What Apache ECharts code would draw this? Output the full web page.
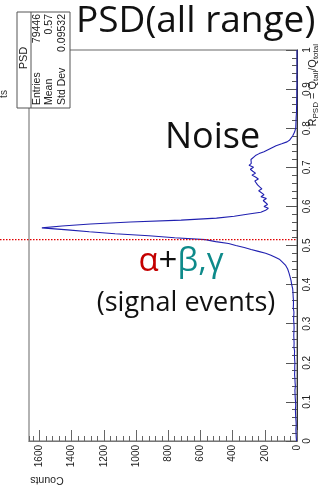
<!DOCTYPE html>
<html>
<head>
<meta charset="utf-8">
<script src="https://cdn.jsdelivr.net/npm/echarts@6/dist/echarts.min.js"></script>
<style>
html,body{margin:0;padding:0;background:#fff;}
#c{width:321px;height:488px;}
</style>
</head>
<body>
<div id="c"></div>
<script>
// Histogram of R_PSD (bin width 0.005, R from 0 to 1); counts per bin
const binWidth = 0.005;
const counts = [
  3,4,5,4,6,5,7,6,5,8,6,7,8,7,9,8,10,9,8,10,9,
  10,11,9,12,11,13,12,10,13,12,14,13,12,15,13,14,16,14,15,13,
  16,15,17,16,18,15,17,19,16,18,17,19,18,20,17,19,21,18,20,19,
  19,21,18,20,22,19,21,23,20,22,
  23,22,25,24,26,25,28,27,30,33,
  35,37,40,43,46,50,54,58,62,72,
  84,97,110,135,162,195,240,285,328,380,
  425,505,570,760,920,1130,1290,1426,1585,1460,
  1283,1035,720,500,390,310,225,195,178,205,
  183,196,210,190,224,205,212,238,218,232,
  245,236,262,240,258,280,258,275,290,270,
  298,284,292,286,276,258,235,205,180,155,
  130,95,62,45,35,27,22,15,10,8,
  6,7,5,6,4,5,4,3,4,3,
  3,2,3,2,2,1,2,1,1,1,
  1,0,1,0,0,1,0,0,0,0,
  0,0,0,0,0,0,0,0,0,0
];
const countTicks = ['0','200','400','600','800','1000','1200','1400','1600'];
const rTicks = ['0','0.1','0.2','0.3','0.4','0.5','0.6','0.7','0.8','0.9','1'];
const statNames = ['Entries','Mean','Std Dev'];
const statValues = ['79446','0.57','0.09532'];
const statTitle = 'PSD';
const cutValue = 0.515;
const countMax = 1665;

const points = counts.map((c, i) => [c, +(i * binWidth).toFixed(4)]);

const chart = echarts.init(document.getElementById('c'), null, {renderer: 'canvas'});
const axFont = 'Liberation Sans, Arial, sans-serif';
const bigFont = 'Open Sans, Noto Sans, sans-serif';

const option = {
  animation: false,
  backgroundColor: '#fff',
  grid: {left: 29, right: 24, top: 50, bottom: 47, show: true, borderColor: '#9a9a9a', borderWidth: 1.5, containLabel: false},
  xAxis: [{
    type: 'value', inverse: true, min: 0, max: countMax, interval: 200, position: 'bottom',
    axisLine: {show: true, lineStyle: {color: '#777', width: 1}},
    axisTick: {show: true, inside: true, length: 11, lineStyle: {color: '#666'}},
    axisLabel: {rotate: 90, fontSize: 10, color: '#222', fontFamily: axFont, margin: 4, showMaxLabel: false,
      formatter: v => countTicks[Math.round(v / 200)] || ''},
    splitLine: {show: false}
  }, {
    type: 'value', inverse: true, min: 0, max: countMax, interval: 40, position: 'bottom',
    axisLine: {show: false},
    axisTick: {show: true, inside: true, length: 5, lineStyle: {color: '#666'}},
    axisLabel: {show: false},
    splitLine: {show: false}
  }],
  yAxis: [{
    type: 'value', min: 0, max: 1, interval: 0.1, position: 'right',
    axisLine: {show: true, lineStyle: {color: '#333', width: 1}},
    axisTick: {show: true, inside: true, length: 11, lineStyle: {color: '#555'}},
    minorTick: {show: true, splitNumber: 5, length: 5, lineStyle: {color: '#555'}},
    axisLabel: {rotate: 90, fontSize: 10, color: '#222', fontFamily: axFont, margin: 5,
      formatter: v => rTicks[Math.round(v * 10)] || ''},
    splitLine: {show: false}, minorSplitLine: {show: false}
  }],
  series: [{
    type: 'line', xAxisIndex: 0, yAxisIndex: 0, data: points,
    showSymbol: false, symbol: 'none', smooth: false,
    lineStyle: {color: '#2020b0', width: 1.1}
  }]
};
chart.setOption(option);

const yCut = chart.convertToPixel({xAxisIndex: 0, yAxisIndex: 0}, [0, cutValue])[1];
const xZero = chart.convertToPixel({xAxisIndex: 0, yAxisIndex: 0}, [0, cutValue])[0];

const rot = Math.PI / 2;
const statsChildren = [
  {type: 'rect', shape: {x: 17, y: 12, width: 53, height: 96}, style: {fill: '#fff', stroke: '#555', lineWidth: 1}},
  {type: 'line', shape: {x1: 31, y1: 12, x2: 31, y2: 108}, style: {stroke: '#555', lineWidth: 1}},
  {type: 'text', x: 24, y: 58, rotation: rot, style: {text: statTitle, font: '11px ' + axFont, fill: '#222', align: 'center', verticalAlign: 'middle'}}
];
const statX = [37.5, 49.5, 62];
statNames.forEach((n, i) => {
  statsChildren.push({type: 'text', x: statX[i], y: 105, rotation: rot, style: {text: n, font: '10.5px ' + axFont, fill: '#222', align: 'left', verticalAlign: 'middle'}});
  statsChildren.push({type: 'text', x: statX[i], y: 14, rotation: rot, style: {text: statValues[i], font: '10.5px ' + axFont, fill: '#222', align: 'right', verticalAlign: 'middle'}});
});

chart.setOption({
  graphic: [
    {type: 'line', shape: {x1: 0, y1: yCut, x2: xZero, y2: yCut}, style: {stroke: '#e00000', lineWidth: 1.2, lineDash: [1.5, 1.5]}, z: 50},
    {type: 'group', children: statsChildren, z: 100},
    {type: 'text', x: 76, y: 3, style: {text: 'PSD(all range)', font: '37px ' + bigFont, fill: '#111', align: 'left', verticalAlign: 'top'}, z: 100},
    {type: 'text', x: 165, y: 120, style: {text: 'Noise', font: '36px ' + bigFont, fill: '#111', align: 'left', verticalAlign: 'top'}, z: 100},
    {type: 'text', x: 181, y: 262, style: {
      text: '{a|α}{p|+}{b|β,γ}', font: '33px ' + bigFont, align: 'center', verticalAlign: 'middle',
      rich: {
        a: {fill: '#c40000', font: '33px ' + bigFont},
        p: {fill: '#111', font: '33px ' + bigFont},
        b: {fill: '#0e8a8a', font: '33px ' + bigFont}
      }}, z: 100},
    {type: 'text', x: 186, y: 303, style: {text: '(signal events)', font: '27px ' + bigFont, fill: '#111', align: 'center', verticalAlign: 'middle'}, z: 100},
    {type: 'text', x: 313, y: 44, rotation: rot, style: {
      text: '{n|R}{s|PSD}{n| = Q}{s|tail}{n|/Q}{s|total}', align: 'right', verticalAlign: 'middle',
      rich: {
        n: {font: '11px ' + axFont, fill: '#222', verticalAlign: 'middle'},
        s: {font: '8px ' + axFont, fill: '#222', verticalAlign: 'bottom', padding: [6, 0, 0, 0]}
      }}, z: 100},
    {type: 'text', x: 47, y: 480, rotation: Math.PI, style: {text: 'Counts', font: '10.5px ' + axFont, fill: '#222', align: 'center', verticalAlign: 'middle'}, z: 100},
    {type: 'text', x: 4, y: 94, rotation: rot, style: {text: 'ts', font: '10px ' + axFont, fill: '#333', align: 'center', verticalAlign: 'middle'}, z: 100}
  ]
});
</script>
</body>
</html>
